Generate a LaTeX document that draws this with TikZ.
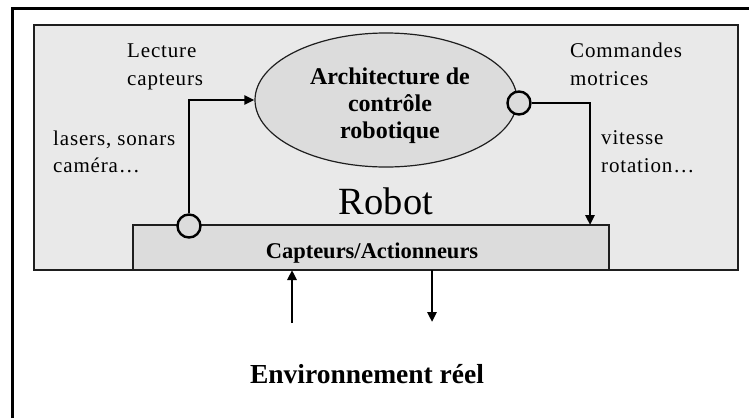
\documentclass[tikz,border=0pt]{standalone}
\usepackage{fontspec}
\setmainfont{Liberation Serif}
\newfontfamily\wideserif[LetterSpace=4]{Liberation Serif}
\usetikzlibrary{shapes.geometric,arrows.meta}

\definecolor{robotfill}{HTML}{E9E9E9}
\definecolor{partfill}{HTML}{DCDCDC}
\definecolor{edgegray}{HTML}{1E1E1E}

\begin{document}
\begin{tikzpicture}[x=1pt,y=-1pt,
  conn/.style={line width=2.6pt, draw=black, -{Triangle[length=10pt,width=9pt]}},
  port/.style={circle, draw=black, line width=2.4pt, fill=partfill, minimum size=23pt, inner sep=0pt},
  lbl/.style={font=\wideserif\fontsize{21}{24}\selectfont, inner sep=0pt, anchor=base west},
  btxt/.style={font=\bfseries\fontsize{22.5}{27}\selectfont, inner sep=0pt, anchor=base},
  archtxt/.style={btxt, font=\bfseries\fontsize{24}{27}\selectfont},
  boxstyle/.style={rectangle, anchor=north west, inner sep=0pt, outer sep=0pt},
]
\useasboundingbox (0,0) rectangle (749,418);
\fill[white] (0,0) rectangle (749,418);

% outer frame (top and left edges)
\draw[line width=3pt] (12,418) -- (12,8) -- (749,8);

% robot enclosure
\node[boxstyle, fill=robotfill, draw=edgegray, line width=2.5pt,
      minimum width=704pt, minimum height=245pt] (robot) at (34,25) {};

% sensors / actuators block
\node[boxstyle, fill=partfill, draw=edgegray, line width=1.3pt,
      minimum width=476pt, minimum height=45pt] (cap) at (133,225) {};
\draw[edgegray, line width=2.5pt] (robot.south west) -- (robot.south east);
\node[btxt] (captxt) at (372,258) {Capteurs/Actionneurs};

% control architecture
\node[ellipse, fill=partfill, draw=edgegray, line width=1.2pt,
      minimum width=262pt, minimum height=134pt, inner sep=0pt] (arch) at (386,100) {};
\node[archtxt] (arch1) at (390,84) {Architecture de};
\node[archtxt] (arch2) at (390,111) {contrôle};
\node[archtxt] (arch3) at (390,138) {robotique};

% ports
\node[port] (lc) at (189,226) {};
\node[port] (rc) at (519,103) {};

% robot title
\node[inner sep=0pt, anchor=base, font=\fontsize{38.5}{40}\selectfont] (robottitle) at (386,214) {Robot};

% side labels
\node[lbl] (lec1) at (127,57) {Lecture};
\node[lbl] (lec2) at (127,85) {capteurs};
\node[lbl] (sen1) at (53,145) {lasers, sonars};
\node[lbl] (sen2) at (53,172) {caméra…};
\node[lbl] (cmd1) at (570,57) {Commandes};
\node[lbl] (cmd2) at (570,85) {motrices};
\node[lbl] (mot1) at (601,144) {vitesse};
\node[lbl] (mot2) at (601,172) {rotation…};

% sensing and command flows
\draw[conn] (lc.north) |- (arch.west);
\coordinate (cmdin) at (590,225);
\draw[conn] (rc.east) -| (cmdin);

% exchanges with the environment
\coordinate (envup) at (292,323);
\coordinate (envdown) at (432,322);
\draw[conn] (envup) -- (envup |- robot.south);
\draw[conn] (envdown |- robot.south) -- (envdown);

\node[btxt, font=\bfseries\fontsize{27.5}{30}\selectfont] (env) at (367,383) {Environnement réel};
\end{tikzpicture}
\end{document}
